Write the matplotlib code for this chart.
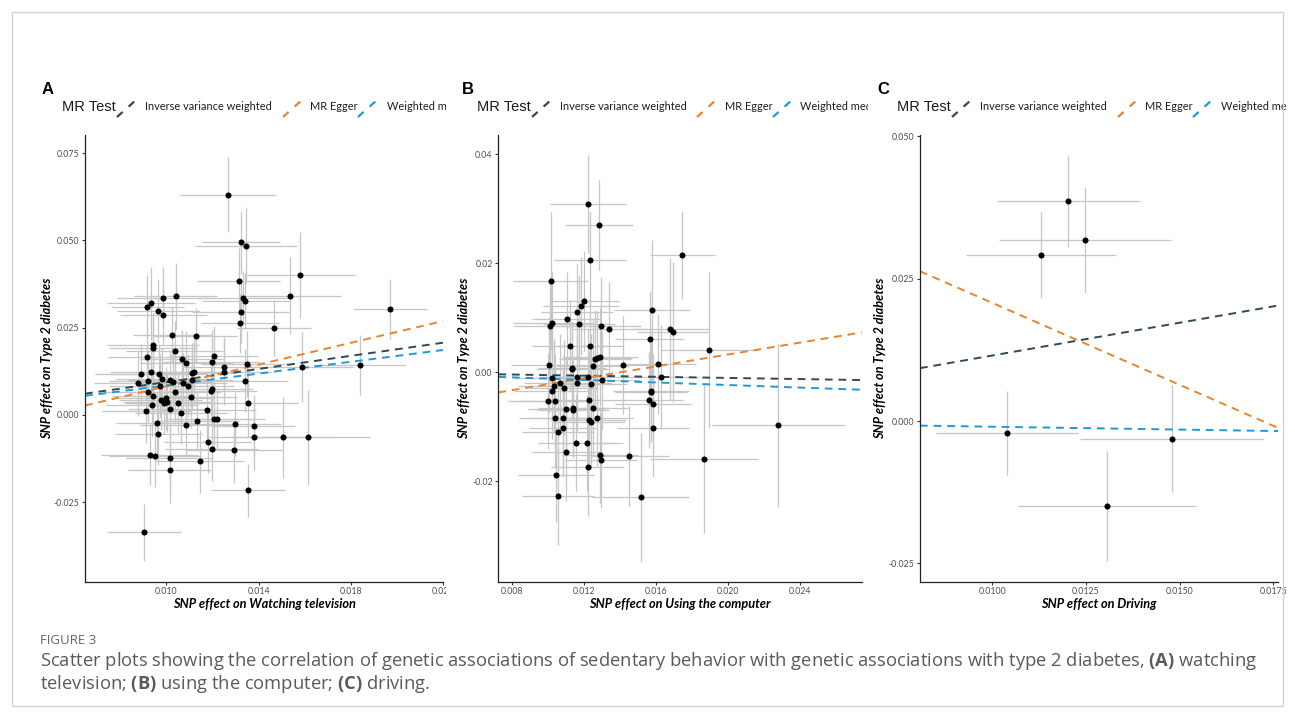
import numpy as np
import matplotlib

matplotlib.use('Agg')
import matplotlib.pyplot as plt
from matplotlib.patches import Rectangle

W, H = 1295, 718

# --- Panel A: SNP effect on watching television vs T2D ---
tv_x = [0.01267, 0.01323, 0.01346, 0.01313, 0.01580, 0.01538, 0.01970, 0.01332, 0.01343, 0.01323,
        0.01320, 0.01466, 0.00918, 0.00933, 0.00987, 0.01040, 0.00964, 0.00987, 0.01026, 0.01128,
        0.00942, 0.00942, 0.01037, 0.00915, 0.01066, 0.01087, 0.01206, 0.01197, 0.01248, 0.01350,
        0.01589, 0.01840, 0.00889, 0.00934, 0.00968, 0.00876, 0.00922, 0.00983, 0.01014, 0.00971,
        0.00922, 0.01037, 0.00942, 0.01113, 0.01120, 0.01110, 0.01095, 0.01072, 0.01029, 0.01195,
        0.01197, 0.01250, 0.01339, 0.01107, 0.00975, 0.00998, 0.01001, 0.00991, 0.00936, 0.01052,
        0.01014, 0.01063, 0.00912, 0.01178, 0.01353, 0.00961, 0.00965, 0.01087, 0.01133, 0.01205,
        0.01218, 0.01297, 0.01378, 0.01382, 0.01505, 0.01615, 0.01179, 0.01196, 0.01294, 0.01145,
        0.00928, 0.00949, 0.01014, 0.01014, 0.01355, 0.00903]
tv_y = [0.0631, 0.0495, 0.0485, 0.0384, 0.0401, 0.0341, 0.0303, 0.0336, 0.0326, 0.0295,
        0.0262, 0.0249, 0.0310, 0.0320, 0.0336, 0.0341, 0.0298, 0.0286, 0.0230, 0.0227,
        0.0201, 0.0191, 0.0182, 0.0167, 0.0161, 0.0149, 0.0169, 0.0151, 0.0136, 0.0145,
        0.0137, 0.0144, 0.0116, 0.0123, 0.0116, 0.0090, 0.0097, 0.0103, 0.0100, 0.0084,
        0.0067, 0.0065, 0.0055, 0.0119, 0.0123, 0.0100, 0.0084, 0.0090, 0.0093, 0.0069,
        0.0074, 0.0122, 0.0098, 0.0050, 0.0043, 0.0047, 0.0037, 0.0033, 0.0029, 0.0035,
        0.0017, 0.0005, 0.0011, 0.0015, 0.0035, -0.0023, -0.0054, -0.0029, -0.0018, -0.0013,
        -0.0013, -0.0026, -0.0033, -0.0062, -0.0064, -0.0064, -0.0079, -0.0099, -0.0102, -0.0133,
        -0.0114, -0.0119, -0.0124, -0.0157, -0.0216, -0.0337]
tv_xerr = [0.0021, 0.0017, 0.0022, 0.0018, 0.0024, 0.0022, 0.0016, 0.0020, 0.0019, 0.0021,
           0.0017, 0.0016, 0.0016, 0.0019, 0.0020, 0.0018, 0.0018, 0.0019, 0.0017, 0.0018,
           0.0020, 0.0019, 0.0021, 0.0017, 0.0018, 0.0020, 0.0019, 0.0021, 0.0018, 0.0020,
           0.0022, 0.0020, 0.0020, 0.0018, 0.0021, 0.0019, 0.0017, 0.0020, 0.0018, 0.0022,
           0.0019, 0.0020, 0.0018, 0.0019, 0.0021, 0.0018, 0.0020, 0.0019, 0.0017, 0.0020,
           0.0018, 0.0021, 0.0019, 0.0020, 0.0018, 0.0021, 0.0019, 0.0017, 0.0020, 0.0019,
           0.0018, 0.0020, 0.0019, 0.0021, 0.0022, 0.0018, 0.0019, 0.0020, 0.0018, 0.0019,
           0.0021, 0.0020, 0.0018, 0.0021, 0.0023, 0.0027, 0.0019, 0.0020, 0.0021, 0.0019,
           0.0021, 0.0020, 0.0019, 0.0018, 0.0016, 0.0016]
tv_yerr = [0.0107, 0.0090, 0.0110, 0.0095, 0.0124, 0.0110, 0.0085, 0.0075, 0.0080, 0.0090,
           0.0085, 0.0080, 0.0090, 0.0105, 0.0088, 0.0095, 0.0092, 0.0085, 0.0080, 0.0078,
           0.0090, 0.0085, 0.0088, 0.0095, 0.0082, 0.0090, 0.0087, 0.0093, 0.0086, 0.0095,
           0.0100, 0.0086, 0.0088, 0.0090, 0.0084, 0.0092, 0.0086, 0.0089, 0.0083, 0.0091,
           0.0087, 0.0090, 0.0085, 0.0088, 0.0094, 0.0087, 0.0090, 0.0086, 0.0084, 0.0092,
           0.0088, 0.0095, 0.0090, 0.0089, 0.0085, 0.0090, 0.0086, 0.0088, 0.0091, 0.0087,
           0.0084, 0.0089, 0.0092, 0.0090, 0.0098, 0.0088, 0.0090, 0.0087, 0.0085, 0.0091,
           0.0089, 0.0093, 0.0090, 0.0095, 0.0116, 0.0136, 0.0088, 0.0091, 0.0094, 0.0090,
           0.0087, 0.0089, 0.0092, 0.0095, 0.0076, 0.0083]

# --- Panel B: SNP effect on using the computer vs T2D ---
pc_x = [0.01225, 0.01286, 0.01236, 0.01746, 0.01016, 0.01025, 0.01011, 0.01105, 0.01162, 0.01186,
        0.01203, 0.01173, 0.01123, 0.01236, 0.01295, 0.01340, 0.01578, 0.01565, 0.01680, 0.01693,
        0.01896, 0.01007, 0.01262, 0.01275, 0.01290, 0.01251, 0.01417, 0.01613, 0.01136, 0.01133,
        0.01022, 0.01164, 0.01628, 0.01164, 0.01036, 0.01022, 0.01090, 0.01068, 0.01000, 0.01041,
        0.01101, 0.01138, 0.01138, 0.01230, 0.01240, 0.01254, 0.01304, 0.01275, 0.01227, 0.01238,
        0.01041, 0.01085, 0.01085, 0.01059, 0.01159, 0.01216, 0.01103, 0.01290, 0.01295, 0.01452,
        0.01221, 0.01046, 0.01055, 0.01515, 0.01865, 0.02280, 0.01574, 0.01574, 0.01563, 0.01584,
        0.01584, 0.01225]
pc_y = [0.0308, 0.0270, 0.0205, 0.0215, 0.0168, 0.0091, 0.0084, 0.0098, 0.0111, 0.0122,
        0.0131, 0.0089, 0.0048, 0.0048, 0.0084, 0.0080, 0.0114, 0.0061, 0.0080, 0.0074,
        0.0040, 0.0013, 0.0024, 0.0027, 0.0028, 0.0012, 0.0013, 0.0015, 0.0008, 0.0006,
        -0.0011, -0.0009, -0.0009, -0.0020, -0.0025, -0.0034, -0.0028, -0.0019, -0.0053, -0.0052,
        -0.0068, -0.0066, -0.0070, -0.0050, -0.0021, -0.0066, -0.0015, -0.0083, -0.0088, -0.0091,
        -0.0084, -0.0084, -0.0102, -0.0110, -0.0129, -0.0129, -0.0146, -0.0151, -0.0161, -0.0154,
        -0.0174, -0.0188, -0.0227, -0.0229, -0.0159, -0.0097, -0.0034, -0.0037, -0.0050, -0.0058,
        -0.0103, -0.0009]
pc_xerr = [0.0021, 0.0019, 0.0020, 0.0018, 0.0021, 0.0022, 0.0020, 0.0019, 0.0020, 0.0021,
           0.0019, 0.0020, 0.0021, 0.0019, 0.0022, 0.0020, 0.0021, 0.0019, 0.0022, 0.0020,
           0.0027, 0.0021, 0.0020, 0.0019, 0.0021, 0.0020, 0.0022, 0.0021, 0.0019, 0.0020,
           0.0021, 0.0020, 0.0021, 0.0019, 0.0020, 0.0021, 0.0019, 0.0020, 0.0022, 0.0020,
           0.0021, 0.0019, 0.0020, 0.0021, 0.0020, 0.0019, 0.0021, 0.0020, 0.0021, 0.0019,
           0.0020, 0.0021, 0.0019, 0.0020, 0.0021, 0.0020, 0.0019, 0.0021, 0.0020, 0.0022,
           0.0020, 0.0021, 0.0020, 0.0027, 0.0030, 0.0037, 0.0021, 0.0020, 0.0019, 0.0021,
           0.0020, 0.0020]
pc_yerr = [0.0090, 0.0082, 0.0088, 0.0080, 0.0125, 0.0095, 0.0090, 0.0086, 0.0088, 0.0090,
           0.0092, 0.0088, 0.0085, 0.0087, 0.0090, 0.0086, 0.0128, 0.0088, 0.0130, 0.0128,
           0.0143, 0.0088, 0.0090, 0.0086, 0.0089, 0.0087, 0.0090, 0.0092, 0.0085, 0.0088,
           0.0090, 0.0087, 0.0095, 0.0088, 0.0086, 0.0089, 0.0087, 0.0090, 0.0088, 0.0086,
           0.0090, 0.0088, 0.0087, 0.0089, 0.0091, 0.0086, 0.0090, 0.0088, 0.0090, 0.0087,
           0.0089, 0.0088, 0.0090, 0.0087, 0.0089, 0.0088, 0.0090, 0.0088, 0.0087, 0.0092,
           0.0089, 0.0086, 0.0090, 0.0118, 0.0136, 0.0150, 0.0092, 0.0090, 0.0088, 0.0091,
           0.0089, 0.0088]

# --- Panel C: SNP effect on driving vs T2D ---
drive_x = [0.01203, 0.01247, 0.01130, 0.01039, 0.01479, 0.01306]
drive_y = [0.0386, 0.0318, 0.0291, -0.0021, -0.0031, -0.0149]
drive_xerr = [0.0019, 0.0023, 0.0020, 0.0019, 0.00245, 0.00237]
drive_yerr = [0.0080, 0.0093, 0.0075, 0.0073, 0.0094, 0.0097]

methods = ['Inverse variance weighted', 'MR Egger', 'Weighted median']
method_colors = ['#2f4a53', '#e8842f', '#1c9ad6']
# (intercept, slope) of each MR fit, same order as methods
tv_fits = [(0.0, 0.94), (-0.0074, 1.558), (0.0, 0.845)]
pc_fits = [(0.0, -0.052), (-0.00766, 0.5456), (0.0, -0.117)]
drive_fits = [(0.0, 1.15), (0.0495, -2.877), (0.0, -0.10)]

tv_xticks = [0.010, 0.014, 0.018, 0.022]
tv_xlabels = ['0.010', '0.014', '0.018', '0.022']
tv_yticks = [-0.025, 0.000, 0.025, 0.050, 0.075]
tv_ylabels = ['-0.025', '0.000', '0.025', '0.050', '0.075']
pc_xticks = [0.008, 0.012, 0.016, 0.020, 0.024]
pc_xlabels = ['0.008', '0.012', '0.016', '0.020', '0.024']
pc_yticks = [-0.02, 0.00, 0.02, 0.04]
pc_ylabels = ['-0.02', '0.00', '0.02', '0.04']
drive_xticks = [0.0100, 0.0125, 0.0150, 0.0175]
drive_xlabels = ['0.0100', '0.0125', '0.0150', '0.0175']
drive_yticks = [-0.025, 0.000, 0.025, 0.050]
drive_ylabels = ['-0.025', '0.000', '0.025', '0.050']

plt.rcParams['font.family'] = ['Lato', 'DejaVu Sans']
plt.rcParams['mathtext.fontset'] = 'custom'
plt.rcParams['mathtext.rm'] = 'Open Sans'
plt.rcParams['mathtext.bf'] = 'Open Sans:bold'

DASH = (0, (4, 3))


def fx(px):
    return px / W


def fy(py):
    return 1 - py / H


def draw_panel(fig, rect, clip, letter, xs, ys, xerr, yerr, fits, xlim, ylim,
               xticks, xlabels, yticks, ylabels, xlabel, leg, ylab_x):
    # invisible panel axes in pixel units, used for legend and clipping
    pax = fig.add_axes([fx(clip[0]), 0, fx(clip[1]) - fx(clip[0]), 1], zorder=0)
    pax.set_xlim(clip[0], clip[1])
    pax.set_ylim(H, 0)
    pax.axis('off')

    pax.text(clip[0] + leg[7], 89, letter, fontsize=12, fontweight='bold',
             family='Liberation Sans', va='center', ha='left', clip_on=True)
    pax.text(leg[0], 107, 'MR Test', fontsize=10.5, family='Liberation Sans',
             color='#1a1a1a', va='center', ha='left', clip_on=True)
    for i, (m, c) in enumerate(zip(methods, method_colors)):
        kx = leg[1 + 2 * i]
        pax.plot([kx, kx + 19], [117, 100], color=c, lw=1.6, ls=(0, (3.4, 3.6)),
                 solid_capstyle='butt')
        pax.text(leg[2 + 2 * i], 107, m, fontsize=7.9, color='#1c1c2a',
                 va='center', ha='left', clip_on=True)

    l, t, r, b = rect
    ax = fig.add_axes([fx(l), fy(b), fx(r) - fx(l), fy(t) - fy(b)], zorder=1)
    ax.patch.set_alpha(0)
    ax.errorbar(xs, ys, xerr=xerr, yerr=yerr, fmt='none', ecolor='#c6c6c6',
                elinewidth=0.9, zorder=1)
    for (ic, sl), c in zip(fits, method_colors):
        ax.axline((0, ic), slope=sl, color=c, lw=1.4, ls=DASH, zorder=2)
    ax.scatter(xs, ys, s=19, color='black', linewidths=0, zorder=3)

    ax.set_xlim(*xlim)
    ax.set_ylim(*ylim)
    ax.set_xticks(xticks)
    ax.set_xticklabels(xlabels)
    ax.set_yticks(yticks)
    ax.set_yticklabels(ylabels)
    for s in ['top', 'right']:
        ax.spines[s].set_visible(False)
    for s in ['left', 'bottom']:
        ax.spines[s].set_color('#222222')
        ax.spines[s].set_linewidth(0.9)
    ax.tick_params(length=2.5, width=0.8, color='#333333', labelsize=6.3,
                   labelcolor='#4d4d4d', pad=1.5)
    for lab in ax.get_xticklabels():
        lab.set_clip_box(pax.bbox)
        lab.set_clip_on(True)

    ax.set_xlabel(xlabel, fontsize=9.2, fontweight='bold', fontstyle='italic', va='center')
    ax.xaxis.set_label_coords(fx((l + r) / 2), fy(604), transform=fig.transFigure)
    ax.set_ylabel('SNP effect on Type 2 diabetes', fontsize=9.2, fontweight='bold',
                  fontstyle='italic', va='center')
    ax.yaxis.set_label_coords(fx(ylab_x), fy((t + b) / 2), transform=fig.transFigure)
    return ax


fig = plt.figure(figsize=(W / 100, H / 100), dpi=100)
fig.patches.append(Rectangle((fx(12), fy(706)), fx(1283) - fx(12), fy(12) - fy(706),
                             transform=fig.transFigure, fill=False,
                             edgecolor='#d4d4d4', lw=1))

draw_panel(fig, (85, 135, 443, 581.7), (30, 446), 'A', tv_x, tv_y, tv_xerr, tv_yerr,
           tv_fits, (0.00647, 0.0220), (-0.0478, 0.0802), tv_xticks, tv_xlabels,
           tv_yticks, tv_ylabels, 'SNP effect on Watching television',
           [62, 117, 145, 283, 310, 358, 387, 12], 47)
draw_panel(fig, (498.3, 135, 861.7, 581.7), (455, 868), 'B', pc_x, pc_y, pc_xerr, pc_yerr,
           pc_fits, (0.00726, 0.02742), (-0.0384, 0.0435), pc_xticks, pc_xlabels,
           pc_yticks, pc_ylabels, 'SNP effect on Using the computer',
           [477, 532, 560, 697, 725, 773, 800, 7], 464)
draw_panel(fig, (920, 135, 1278.3, 581.7), (872, 1286), 'C', drive_x, drive_y, drive_xerr,
           drive_yerr, drive_fits, (0.00807, 0.01763), (-0.0282, 0.0502), drive_xticks,
           drive_xlabels, drive_yticks, drive_ylabels, 'SNP effect on Driving',
           [897, 952, 980, 1118, 1145, 1193, 1221, 5], 880)

fig.text(fx(40), fy(641), 'FIGURE 3', fontsize=9.5, color='#666666', family='Open Sans',
         va='center', ha='left')
fig.text(fx(40), fy(661),
         r'Scatter plots showing the correlation of genetic associations of sedentary behavior '
         r'with genetic associations with type 2 diabetes, $\mathbf{(A)}$ watching',
         fontsize=13.2, color='#5a5a5a', family='Open Sans', va='center', ha='left')
fig.text(fx(40), fy(684),
         r'television; $\mathbf{(B)}$ using the computer; $\mathbf{(C)}$ driving.',
         fontsize=13.2, color='#5a5a5a', family='Open Sans', va='center', ha='left')

fig.savefig('out.png', dpi=100)
plt.close(fig)
